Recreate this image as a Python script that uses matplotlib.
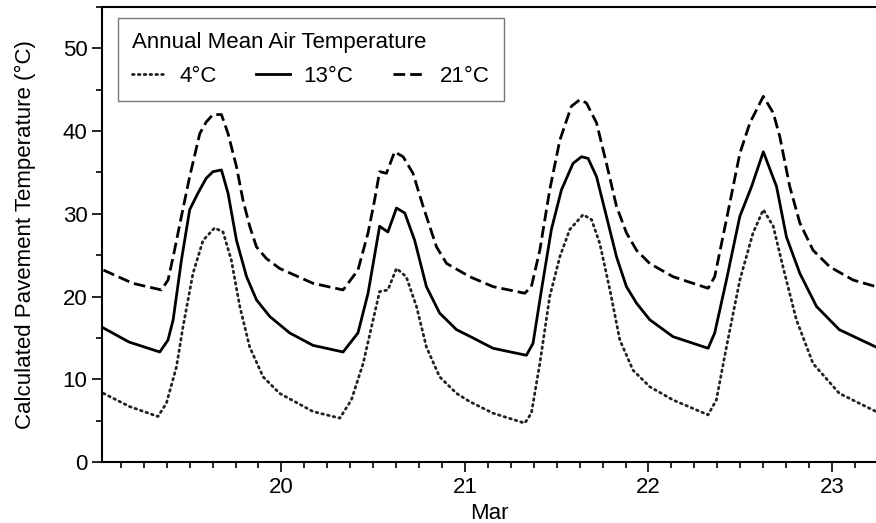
import matplotlib
matplotlib.use('Agg')

import matplotlib.pyplot as plt
import matplotlib.dates as mdates
import numpy as np
import pandas as pd

plt.rcParams['font.family'] = ['Liberation Sans', 'DejaVu Sans']

# Day of March (fractional) and calculated pavement temperature (°C)
t_4c = [19.03, 19.173, 19.327, 19.373, 19.428, 19.464, 19.518, 19.573, 19.636, 19.682,
        19.727, 19.773, 19.827, 19.9, 19.99, 20.172, 20.318, 20.381, 20.445, 20.508,
        20.535, 20.58, 20.627, 20.68, 20.736, 20.79, 20.862, 20.954, 21.026, 21.153,
        21.326, 21.362, 21.408, 21.462, 21.517, 21.571, 21.644, 21.69, 21.735, 21.79,
        21.844, 21.916, 22.007, 22.134, 22.325, 22.37, 22.425, 22.498, 22.57, 22.626,
        22.68, 22.733, 22.806, 22.897, 23.04, 23.24]
v_4c = [8.3, 6.7, 5.5, 7.1, 11.5, 16.4, 22.8, 26.8, 28.3, 27.8,
        24.4, 18.8, 13.9, 10.3, 8.3, 6.1, 5.3, 7.5, 11.9, 18.0,
        20.6, 20.8, 23.4, 22.4, 18.8, 13.9, 10.3, 8.3, 7.3, 5.9,
        4.7, 5.9, 11.9, 20.0, 24.8, 28.1, 29.9, 29.3, 26.4, 20.8,
        14.75, 11.1, 9.1, 7.5, 5.7, 7.5, 13.9, 22.0, 27.7, 30.5,
        28.5, 23.6, 17.2, 11.9, 8.3, 6.1]

t_13c = [19.03, 19.17, 19.337, 19.382, 19.41, 19.455, 19.5, 19.545, 19.59, 19.627,
         19.673, 19.709, 19.755, 19.81, 19.864, 19.936, 20.045, 20.172, 20.336, 20.417,
         20.472, 20.535, 20.58, 20.627, 20.672, 20.726, 20.79, 20.862, 20.954, 21.026,
         21.153, 21.335, 21.371, 21.417, 21.471, 21.526, 21.589, 21.635, 21.671, 21.717,
         21.771, 21.826, 21.88, 21.935, 22.007, 22.134, 22.325, 22.361, 22.425, 22.498,
         22.562, 22.626, 22.698, 22.752, 22.825, 22.916, 23.04, 23.24]
v_13c = [16.2, 14.5, 13.3, 14.75, 17.2, 24.4, 30.5, 32.5, 34.3, 35.1,
         35.3, 32.5, 26.8, 22.4, 19.6, 17.6, 15.6, 14.1, 13.3, 15.6,
         20.4, 28.5, 27.8, 30.7, 30.1, 26.8, 21.2, 18.0, 16.0, 15.2,
         13.75, 12.9, 14.35, 20.8, 28.1, 32.9, 36.1, 36.9, 36.7, 34.5,
         29.7, 24.8, 21.2, 19.2, 17.2, 15.15, 13.75, 15.6, 22.0, 29.7,
         33.3, 37.5, 33.3, 27.2, 22.8, 18.8, 16.0, 13.9]

t_21c = [19.03, 19.19, 19.346, 19.382, 19.41, 19.455, 19.5, 19.555, 19.59, 19.627,
         19.673, 19.709, 19.755, 19.79, 19.827, 19.864, 19.918, 19.99, 20.172, 20.336,
         20.417, 20.472, 20.508, 20.535, 20.572, 20.617, 20.663, 20.717, 20.772, 20.845,
         20.9, 21.026, 21.153, 21.326, 21.362, 21.408, 21.462, 21.517, 21.58, 21.626,
         21.662, 21.717, 21.771, 21.826, 21.88, 21.935, 22.007, 22.134, 22.325, 22.361,
         22.425, 22.498, 22.553, 22.626, 22.68, 22.716, 22.77, 22.825, 22.897, 22.988,
         23.115, 23.24]
v_21c = [23.2, 21.6, 20.8, 22.0, 24.8, 29.7, 34.5, 39.7, 41.1, 42.0,
         42.0, 39.7, 35.7, 31.7, 28.5, 26.0, 24.6, 23.4, 21.6, 20.8,
         23.2, 27.7, 31.7, 35.1, 34.9, 37.5, 36.9, 34.9, 30.9, 26.0,
         24.0, 22.4, 21.2, 20.4, 21.2, 25.6, 32.9, 38.9, 43.0, 43.8,
         43.4, 41.0, 36.1, 30.9, 27.7, 25.6, 24.0, 22.4, 21.0, 22.4,
         29.3, 37.3, 41.0, 44.2, 42.2, 39.3, 33.3, 28.9, 25.6, 23.6,
         22.0, 21.2]

labels = ['4°C', '13°C', '21°C']

BASE = pd.Timestamp('2015-03-01')
FS = 16


def to_dates(days):
    return BASE + pd.to_timedelta(np.asarray(days) - 1.0, unit='D')


def main() -> None:
    fig = plt.figure(figsize=(8.76, 5.23), dpi=100)
    ax = fig.add_axes([0.1164, 0.1166, 0.8836, 0.87])

    ax.plot(to_dates(t_4c), v_4c, color='#222222', lw=2.0, ls=(0, (0.6, 1.5)),
            dash_capstyle='round', label=labels[0])
    ax.plot(to_dates(t_13c), v_13c, color='black', lw=2.0, label=labels[1])
    ax.plot(to_dates(t_21c), v_21c, color='black', lw=2.0, ls=(0, (4.2, 1.8)),
            label=labels[2])

    ax.set_xlim(to_dates([19.022, 23.24]))
    ax.set_ylim(0, 55)

    ax.xaxis.set_major_locator(mdates.DayLocator())
    ax.xaxis.set_major_formatter(mdates.DateFormatter('%d'))
    ax.xaxis.set_minor_locator(mdates.HourLocator(byhour=range(0, 24, 3)))
    ax.set_yticks(range(0, 51, 10))
    ax.set_yticks(range(5, 56, 10), minor=True)

    ax.tick_params(which='major', length=7, width=1.2, labelsize=FS, direction='out')
    ax.tick_params(which='minor', length=4, width=1.2, direction='out')

    for side in ('left', 'bottom', 'top'):
        ax.spines[side].set_linewidth(1.5)
    ax.spines['right'].set_visible(False)

    ax.set_xlabel('Mar', fontsize=FS, labelpad=4)
    ax.set_ylabel('Calculated Pavement Temperature (°C)', fontsize=FS, labelpad=19)

    leg = ax.legend(title='Annual Mean Air Temperature', ncol=3, loc='upper left',
                    bbox_to_anchor=(0.0207, 0.976), borderaxespad=0.0,
                    fontsize=FS, title_fontsize=FS,
                    frameon=True, fancybox=False, handlelength=1.5,
                    columnspacing=1.8, handletextpad=0.6, borderpad=0.65,
                    labelspacing=0.55, alignment='left')
    leg.get_frame().set_edgecolor('#555555')
    leg.get_frame().set_linewidth(1.0)

    fig.savefig('out.png', dpi=100, facecolor='white')
    plt.close(fig)


if __name__ == '__main__':
    main()
